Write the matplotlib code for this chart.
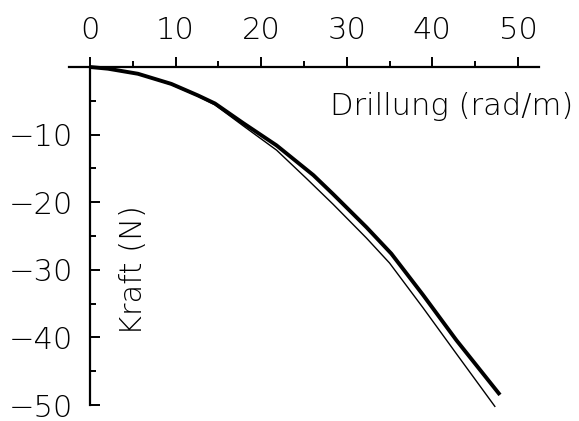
import matplotlib.pyplot as plt
from matplotlib.ticker import MultipleLocator

drill_a = [0, 2.1, 5.6, 9.5, 12.6, 14.6, 17.9, 21.8, 26.1, 28.4, 32.3, 35.2, 38.9, 42.8, 47.9]
kraft_a = [0, -0.25, -1.0, -2.5, -4.2, -5.4, -8.3, -11.6, -16.0, -18.8, -23.7, -27.6, -33.7, -40.4, -48.5]

drill_b = [0, 2.1, 5.6, 9.5, 12.6, 14.6, 17.9, 21.8, 25.3, 28.4, 32.3, 35.0, 38.9, 42.8, 47.3]
kraft_b = [0, -0.25, -1.0, -2.6, -4.3, -5.6, -8.7, -12.3, -16.5, -20.3, -25.3, -29.0, -35.6, -42.4, -50.2]

plt.rcParams['font.family'] = ['DejaVu Sans']
plt.rcParams['font.weight'] = 'light'

fig = plt.figure(figsize=(5.79, 4.21), dpi=100)
ax = fig.add_axes([0.1185, 0.0219, 0.813, 0.835])

ax.plot(drill_a, kraft_a, color='black', lw=2.8, solid_capstyle='butt', solid_joinstyle='round')
ax.plot(drill_b, kraft_b, color='black', lw=1.0, solid_joinstyle='round')

ax.set_xlim(-2.5, 52.5)
ax.set_ylim(-51, 1)

for s in ['right', 'bottom']:
    ax.spines[s].set_visible(False)
ax.spines['top'].set_position(('data', 0))
ax.spines['left'].set_position(('data', 0))
ax.spines['left'].set_bounds(-50, 0)
ax.spines['top'].set_linewidth(1.6)
ax.spines['left'].set_linewidth(1.6)

ax.xaxis.set_ticks_position('top')
ax.xaxis.set_minor_locator(MultipleLocator(5))
ax.yaxis.set_minor_locator(MultipleLocator(5))
ax.set_xticks([0, 10, 20, 30, 40, 50])
ax.set_yticks([-10, -20, -30, -40, -50])

ax.tick_params(axis='x', which='major', direction='out', length=7, width=1.4, pad=9, labelsize=22)
ax.tick_params(axis='x', which='minor', direction='out', length=4, width=1.4)
ax.tick_params(axis='y', which='major', direction='in', length=7, width=1.4, pad=12, labelsize=22)
ax.tick_params(axis='y', which='minor', direction='in', length=4, width=1.4)

ax.text(42.2, -5.9, 'Drillung (rad/m)', fontsize=22, ha='center', va='center')
ax.text(5.1, -30, 'Kraft (N)', fontsize=22, ha='center', va='center', rotation=90)

fig.savefig('out.png', dpi=100)
